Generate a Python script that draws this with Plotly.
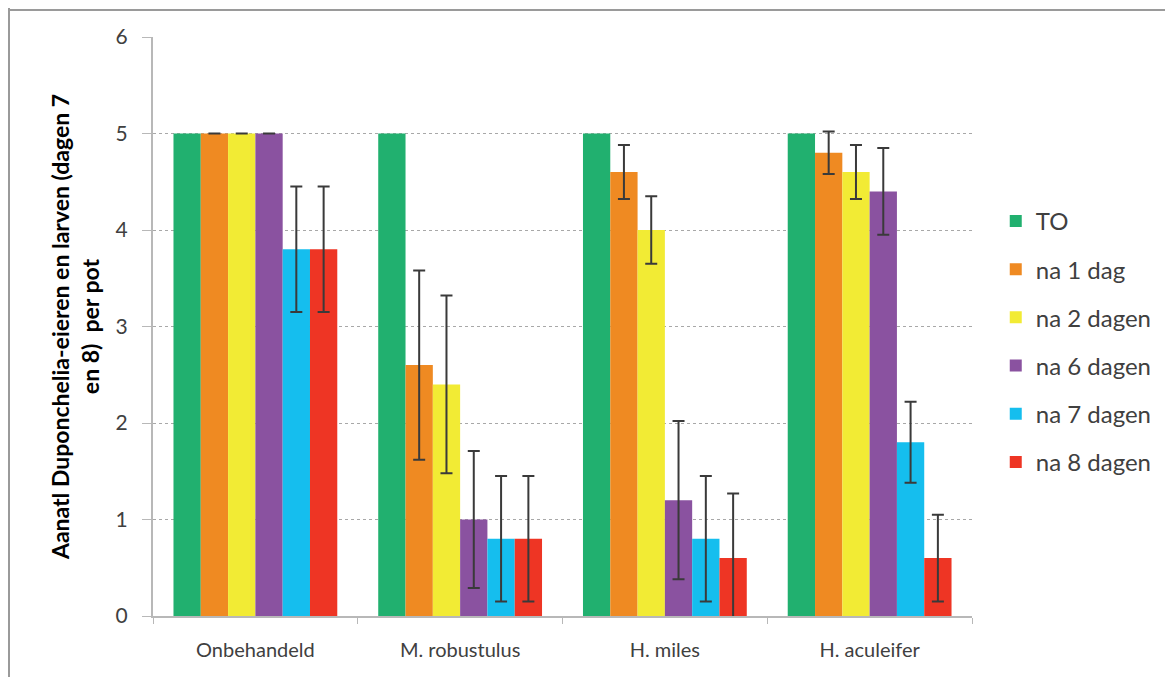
import plotly.graph_objects as go

categories = ["Onbehandeld", "M. robustulus", "H. miles", "H. aculeifer"]
series_names = ["TO", "na 1 dag", "na 2 dagen", "na 6 dagen", "na 7 dagen", "na 8 dagen"]
colors = ["#21B06F", "#EF8A22", "#F2EB34", "#8A52A0", "#15BEEE", "#EE3524"]

t0 = [5, 5, 5, 5]
na1 = [5, 2.6, 4.6, 4.8]
na2 = [5, 2.4, 4.0, 4.6]
na6 = [5, 1.0, 1.2, 4.4]
na7 = [3.8, 0.8, 0.8, 1.8]
na8 = [3.8, 0.8, 0.6, 0.6]

err_t0 = None
err_na1 = [0, 0.98, 0.28, 0.22]
err_na2 = [0, 0.92, 0.35, 0.28]
err_na6 = [0, 0.71, 0.82, 0.45]
err_na7 = [0.65, 0.65, 0.65, 0.42]
err_na8 = [0.65, 0.65, 0.67, 0.45]

values = [t0, na1, na2, na6, na7, na8]
errors = [err_t0, err_na1, err_na2, err_na6, err_na7, err_na8]

FONT = "Lato, 'Open Sans', sans-serif"

W, H = 1173, 677
L, T = 145, 29          # plot-area left / top inside the figure
PW, PH = 819, 579       # plot-area width / height

fig = go.Figure()
for i, (name, vals, err, col) in enumerate(zip(series_names, values, errors, colors)):
    kw = {}
    if err is not None:
        kw["error_y"] = dict(type="data", array=err, visible=True,
                             color="#3a3a3a", thickness=2, width=6)
    fig.add_trace(go.Bar(
        x=categories, y=vals, name=name, marker=dict(color=col, line=dict(width=0)),
        legendgroup=name, **kw))

fig.update_layout(
    width=W, height=H,
    margin=dict(l=L, r=W - L - PW, t=T, b=H - T - PH),
    paper_bgcolor="white", plot_bgcolor="white",
    barmode="group", bargap=0.2, bargroupgap=0,
    font=dict(family=FONT, size=20, color="#404040"),
    legend=dict(x=1.029, y=0.7205, xanchor="left", yanchor="top",
                traceorder="grouped", tracegroupgap=14,
                font=dict(family=FONT, size=24, color="#404040"),
                bgcolor="rgba(0,0,0,0)"),
    showlegend=True,
)

fig.update_xaxes(
    showline=True, linecolor="#b8b8b8", linewidth=2,
    ticks="outside", tickson="boundaries", ticklen=6, tickcolor="#b8b8b8", tickwidth=1,
    tickfont=dict(family=FONT, size=20, color="#404040"),
    ticklabelstandoff=15,
    showgrid=False,
)
fig.update_yaxes(
    range=[0, 6], dtick=1, tick0=0,
    showline=True, linecolor="#b8b8b8", linewidth=2,
    ticks="outside", ticklen=9, tickcolor="#b8b8b8",
    showgrid=True, gridcolor="#a8a8a8", griddash="dot", gridwidth=1,
    zeroline=False,
    tickfont=dict(family=FONT, size=21, color="#404040"),
    ticklabelstandoff=10,
    title=dict(text="<b>Aanatl Duponchelia-eieren en larven (dagen 7<br>en 8)  per pot</b>",
               font=dict(family=FONT, size=23, color="#000000"), standoff=10),
)

# outer border (top and left edges of the chart frame)
fig.add_shape(type="line", xref="paper", yref="paper",
              x0=(0 - L) / PW, x1=(W - L) / PW,
              y0=(T + PH - 2) / PH, y1=(T + PH - 2) / PH,
              line=dict(color="#9a9a9a", width=2))
fig.add_shape(type="line", xref="paper", yref="paper",
              x0=(1 - L) / PW, x1=(1 - L) / PW,
              y0=(T + PH) / PH, y1=(T + PH - H) / PH,
              line=dict(color="#9a9a9a", width=2))

fig.write_html("out.html")
